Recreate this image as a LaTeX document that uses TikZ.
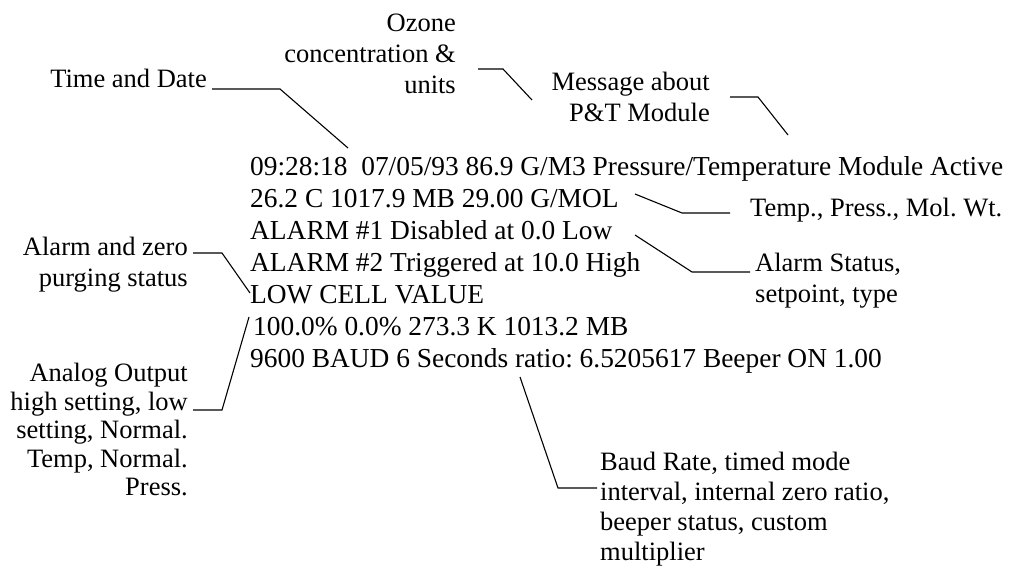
\documentclass[tikz,border=0pt]{standalone}
\usepackage{fontspec}
\setmainfont{Liberation Serif}
\begin{document}
\frenchspacing
\begin{tikzpicture}[x=1pt,y=-1pt,
  screen/.style={font=\fontsize{27.4}{27.4}\selectfont, anchor=base west, inner sep=0pt},
  labl/.style={font=\fontsize{26.5}{#1}\selectfont, inner sep=0pt, align=left, anchor=base west},
  labr/.style={font=\fontsize{26.5}{#1}\selectfont, inner sep=0pt, align=right, anchor=base east},
  lead/.style={line width=1.1pt, line join=miter}]
\useasboundingbox (0,0) rectangle (1013,570);

% display screen lines
\node[screen] (s1) at (250,175) {09:28:18~~07/05/93 86.9 G/M3 Pressure/Temperature Module Active};
\node[screen] (s2) at (250,207) {26.2 C 1017.9 MB 29.00 G/MOL};
\node[screen] (s3) at (250,239) {ALARM \#1 Disabled at 0.0 Low};
\node[screen] (s4) at (250,271) {ALARM \#2 Triggered at 10.0 High};
\node[screen] (s5) at (250,303) {LOW CELL VALUE};
\node[screen] (s6) at (253,335) {100.0\% 0.0\% 273.3 K 1013.2 MB};
\node[screen] (s7) at (250,367) {9600 BAUD 6 Seconds ratio: 6.5205617 Beeper ON 1.00};

% callout labels (anchored at the baseline of their last line)
\node[labr=31] (ozone) at (456,93.5) {Ozone\\concentration \&\\units};
\node[labr=31] (time) at (207,87) {Time and Date};
\node[labr=31] (msg) at (710,121.5) {Message about\\P\&T Module};
\node[labl=31] (tpm) at (750,216) {Temp., Press., Mol. Wt.};
\node[labr=31] (alz) at (188,286.5) {Alarm and zero\\purging status};
\node[labl=31] (als) at (755,302) {Alarm Status,\\setpoint, type};
\node[labr=28.5] (ana) at (188,495.5) {Analog Output\\high setting, low\\setting, Normal.\\Temp, Normal.\\Press.};
\node[labl=30] (baud) at (600,560.5) {Baud Rate, timed mode\\interval, internal zero ratio,\\beeper status, custom\\multiplier};

% leader lines
\coordinate (t1) at (212,89);  \coordinate (t2) at (280,89);  \coordinate (t3) at (348,148);
\coordinate (o1) at (478,69);  \coordinate (o2) at (503,69);  \coordinate (o3) at (532,100);
\coordinate (m1) at (730,97);  \coordinate (m2) at (758,97);  \coordinate (m3) at (788,135);
\coordinate (p1) at (635,194); \coordinate (p2) at (682,213); \coordinate (p3) at (730,213);
\coordinate (a1) at (635,235); \coordinate (a2) at (692,272); \coordinate (a3) at (750,272);
\coordinate (z1) at (193,253); \coordinate (z2) at (222,253); \coordinate (z3) at (250,293);
\coordinate (g1) at (193,410); \coordinate (g2) at (222,410); \coordinate (g3) at (249,317);
\coordinate (b1) at (520,377); \coordinate (b2) at (558,488); \coordinate (b3) at (597,488);

\draw[lead] (t1) -- (t2) -- (t3);
\draw[lead] (o1) -- (o2) -- (o3);
\draw[lead] (m1) -- (m2) -- (m3);
\draw[lead] (p1) -- (p2) -- (p3);
\draw[lead] (a1) -- (a2) -- (a3);
\draw[lead] (z1) -- (z2) -- (z3);
\draw[lead] (g1) -- (g2) -- (g3);
\draw[lead] (b1) -- (b2) -- (b3);
\end{tikzpicture}
\end{document}
